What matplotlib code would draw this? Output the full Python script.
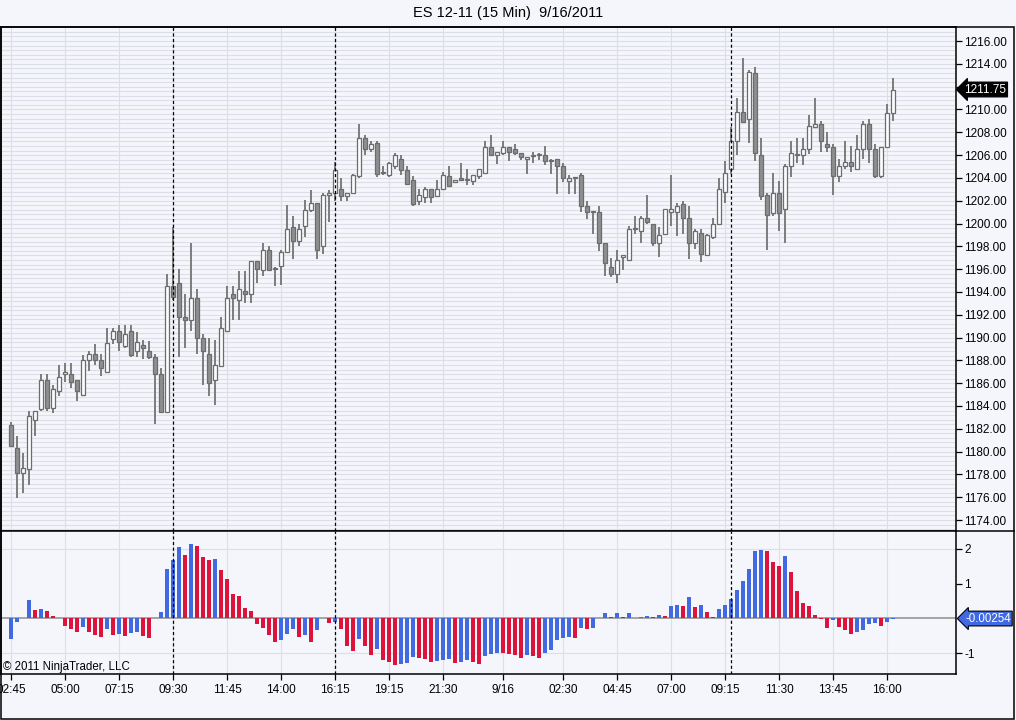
import matplotlib.pyplot as plt
import numpy as np
from matplotlib.transforms import blended_transform_factory
from matplotlib.patches import Rectangle
from matplotlib.lines import Line2D

plt.rcParams['font.family'] = ['Liberation Sans', 'DejaVu Sans']

# ES 12-11, 15 min bars (index 0 = 02:45)
opens = [1182.3, 1180.3, 1178.1, 1178.5, 1182.8, 1183.7, 1186.3, 1183.8, 1185.3, 1186.8,
         1186.8, 1186.3, 1185.0, 1188.0, 1188.6, 1188.0, 1187.0, 1189.9, 1190.6, 1189.3,
         1190.6, 1188.8, 1189.35, 1188.8, 1188.3, 1186.8, 1183.5, 1194.5, 1194.8, 1191.8,
         1191.5, 1193.5, 1190.0, 1188.6, 1186.3, 1187.5, 1190.6, 1193.8, 1193.3, 1194.1,
         1193.8, 1196.7, 1195.9, 1197.7, 1196.0, 1196.3, 1197.5, 1199.7, 1198.5, 1199.8,
         1201.2, 1201.8, 1198.0, 1202.5, 1202.7, 1203.0, 1202.4, 1202.65, 1204.2, 1207.5,
         1206.5, 1207.1, 1204.5, 1204.25, 1205.0, 1205.7, 1204.7, 1203.8, 1202.0, 1202.3,
         1203.0, 1202.4, 1203.0, 1204.2, 1203.6, 1204.0, 1203.8, 1203.75, 1204.2, 1204.45,
         1206.7, 1206.0, 1206.2, 1206.7, 1206.5, 1206.2, 1205.7, 1205.9, 1206.0, 1206.0,
         1205.5, 1205.7, 1205.0, 1203.75, 1203.95, 1204.25, 1201.5, 1201.0, 1201.0, 1198.3,
         1196.2, 1195.6, 1197.1, 1196.8, 1199.5, 1199.3, 1200.5, 1200.0, 1198.3, 1199.1,
         1201.0, 1201.0, 1201.75, 1200.5, 1198.3, 1199.2, 1197.25, 1198.8, 1200.0, 1202.8,
         1204.75, 1207.2, 1209.8, 1209.2, 1213.2, 1206.0, 1202.5, 1200.95, 1202.7, 1201.25,
         1205.0, 1206.0, 1206.0, 1206.5, 1208.5, 1208.7, 1207.0, 1206.7, 1204.2, 1205.0,
         1205.4, 1204.75, 1206.5, 1208.7, 1206.5, 1204.2, 1206.7, 1209.7]
highs = [1182.6, 1181.4, 1179.9, 1183.6, 1183.6, 1186.8, 1186.8, 1185.8, 1187.6, 1187.8,
         1187.8, 1186.3, 1188.5, 1188.8, 1189.4, 1188.6, 1190.8, 1190.8, 1191.1, 1191.1,
         1191.1, 1190.5, 1189.8, 1189.7, 1188.6, 1187.3, 1195.6, 1199.7, 1196.0, 1193.8,
         1198.3, 1194.3, 1190.3, 1190.0, 1189.8, 1191.8, 1194.5, 1194.5, 1195.8, 1195.8,
         1196.7, 1196.7, 1198.3, 1198.0, 1196.2, 1197.7, 1201.6, 1200.7, 1200.0, 1202.1,
         1202.9, 1201.8, 1202.7, 1202.9, 1205.4, 1204.0, 1202.7, 1204.3, 1208.7, 1207.75,
         1207.25, 1207.25, 1205.0, 1205.4, 1206.2, 1206.0, 1205.0, 1204.2, 1203.0, 1203.2,
         1203.0, 1203.8, 1204.5, 1205.0, 1203.8, 1205.3, 1204.75, 1204.25, 1204.75, 1207.25,
         1207.75, 1206.3, 1207.2, 1206.7, 1207.0, 1206.2, 1205.7, 1206.25, 1206.2, 1206.8,
         1205.7, 1205.7, 1205.3, 1204.25, 1203.95, 1204.45, 1202.0, 1201.0, 1201.5, 1198.3,
         1197.0, 1197.7, 1197.1, 1199.75, 1200.7, 1200.7, 1202.5, 1200.0, 1199.7, 1201.25,
         1204.25, 1201.8, 1202.0, 1201.5, 1199.5, 1199.5, 1199.1, 1200.5, 1204.0, 1205.5,
         1208.5, 1211.0, 1214.5, 1213.5, 1213.7, 1207.5, 1202.7, 1204.45, 1203.75, 1205.25,
         1207.2, 1207.5, 1207.5, 1209.5, 1211.0, 1209.0, 1208.0, 1207.0, 1205.7, 1207.25,
         1206.8, 1207.75, 1209.0, 1209.2, 1207.0, 1206.7, 1210.5, 1212.75]
lows = [1180.4, 1175.9, 1176.4, 1177.1, 1181.4, 1183.6, 1183.6, 1183.4, 1184.9, 1186.1,
        1185.6, 1184.4, 1185.0, 1187.1, 1187.6, 1186.6, 1187.0, 1189.4, 1188.8, 1189.1,
        1188.3, 1188.3, 1188.1, 1188.1, 1182.4, 1183.4, 1183.5, 1193.3, 1188.3, 1189.1,
        1190.6, 1188.6, 1185.8, 1184.9, 1184.1, 1187.5, 1190.5, 1191.5, 1191.5, 1193.0,
        1193.0, 1194.8, 1195.4, 1195.9, 1194.5, 1194.6, 1197.5, 1196.9, 1198.0, 1198.8,
        1201.0, 1196.9, 1197.3, 1200.1, 1202.0, 1202.0, 1202.0, 1202.6, 1204.0, 1206.0,
        1206.3, 1204.05, 1204.25, 1204.05, 1204.8, 1204.25, 1203.4, 1201.5, 1201.6, 1201.8,
        1201.8, 1202.4, 1203.0, 1203.3, 1203.6, 1203.75, 1203.4, 1203.4, 1203.9, 1204.45,
        1205.9, 1205.2, 1206.0, 1205.5, 1206.0, 1205.6, 1204.3, 1205.3, 1205.6, 1205.1,
        1204.3, 1202.6, 1203.6, 1202.6, 1202.6, 1201.0, 1200.4, 1199.1, 1197.6, 1195.4,
        1195.3, 1194.8, 1195.9, 1196.8, 1199.1, 1198.3, 1200.0, 1198.0, 1197.1, 1199.1,
        1199.8, 1198.9, 1199.1, 1196.9, 1197.8, 1196.6, 1197.25, 1198.6, 1200.0, 1201.8,
        1204.3, 1206.0, 1208.9, 1207.1, 1205.5, 1202.1, 1197.7, 1200.65, 1199.3, 1198.3,
        1204.05, 1205.3, 1205.1, 1206.1, 1208.5, 1206.3, 1206.3, 1202.5, 1203.6, 1204.8,
        1204.5, 1204.75, 1205.7, 1205.3, 1204.0, 1204.0, 1206.7, 1209.0]
closes = [1180.5, 1178.1, 1178.6, 1183.1, 1183.6, 1186.3, 1183.8, 1185.5, 1186.5, 1187.0,
          1186.1, 1185.3, 1188.0, 1188.6, 1188.0, 1187.3, 1189.5, 1190.6, 1189.6, 1190.3,
          1188.5, 1189.6, 1189.1, 1188.3, 1186.8, 1183.5, 1194.5, 1193.6, 1191.8, 1191.5,
          1193.5, 1190.0, 1188.8, 1186.0, 1187.6, 1190.8, 1193.5, 1193.5, 1194.3, 1193.8,
          1196.7, 1196.0, 1197.7, 1195.9, 1196.0, 1197.5, 1199.5, 1198.5, 1199.5, 1201.2,
          1201.8, 1197.7, 1202.5, 1202.7, 1204.7, 1202.4, 1202.7, 1204.25, 1207.5, 1206.5,
          1207.0, 1204.3, 1204.4, 1205.3, 1206.0, 1204.7, 1203.5, 1201.7, 1202.5, 1203.0,
          1202.3, 1203.0, 1204.25, 1203.3, 1203.8, 1203.8, 1203.8, 1204.25, 1204.75, 1206.7,
          1206.0, 1206.3, 1206.7, 1206.3, 1206.2, 1205.8, 1205.7, 1205.9, 1206.0, 1205.5,
          1205.5, 1205.0, 1203.95, 1203.95, 1203.95, 1201.5, 1201.0, 1201.0, 1198.3, 1196.5,
          1195.6, 1196.8, 1197.1, 1199.5, 1199.5, 1200.5, 1200.1, 1198.3, 1199.0, 1201.25,
          1201.25, 1201.5, 1200.5, 1198.3, 1199.3, 1197.3, 1199.0, 1200.0, 1203.0, 1204.45,
          1207.25, 1209.8, 1208.9, 1213.3, 1206.2, 1202.4, 1200.75, 1202.7, 1200.95, 1205.0,
          1206.2, 1206.0, 1206.5, 1208.55, 1208.7, 1207.2, 1206.7, 1204.2, 1205.0, 1205.4,
          1205.0, 1206.5, 1208.7, 1206.5, 1204.2, 1206.7, 1209.7, 1211.75]

# lower panel oscillator histogram
hist = [-0.585, -0.096, 0.0, 0.53, 0.24, 0.27, 0.22, 0.08, 0.0, -0.21,
        -0.30, -0.38, -0.24, -0.38, -0.47, -0.53, -0.30, -0.47, -0.46, -0.50,
        -0.41, -0.40, -0.50, -0.56, 0.0, 0.18, 1.42, 1.68, 2.05, 1.82,
        2.14, 2.08, 1.76, 1.68, 1.71, 1.39, 1.13, 0.70, 0.64, 0.29,
        0.21, -0.15, -0.27, -0.47, -0.67, -0.61, -0.44, -0.30, -0.53, -0.47,
        -0.67, -0.33, 0.0, -0.12, -0.10, -0.30, -0.79, -0.93, -0.585, -0.79,
        -1.05, -0.87, -1.19, -1.25, -1.33, -1.30, -1.28, -1.10, -1.13, -1.16,
        -1.25, -1.22, -1.19, -1.16, -1.28, -1.25, -1.19, -1.25, -1.30, -1.07,
        -1.02, -0.99, -1.00, -1.01, -1.05, -1.13, -1.05, -1.07, -1.13, -0.99,
        -0.90, -0.61, -0.56, -0.53, -0.56, -0.27, -0.30, -0.27, 0.0, 0.16,
        0.05, 0.16, 0.05, 0.16, 0.02, 0.05, 0.08, 0.05, 0.105, 0.08,
        0.36, 0.385, 0.36, 0.62, 0.33, 0.385, 0.18, 0.04, 0.27, 0.385,
        0.56, 0.82, 1.08, 1.42, 1.94, 1.97, 1.94, 1.63, 1.51, 1.80,
        1.34, 0.79, 0.44, 0.36, 0.10, -0.01, -0.27, -0.04, -0.24, -0.33,
        -0.44, -0.385, -0.33, -0.15, -0.14, -0.21, -0.10, -0.00254]

tick_pos = [0, 9, 18, 27, 36, 45, 54, 63, 72, 82, 92, 101, 110, 119, 128, 137, 146]
tick_labels = ['02:45', '05:00', '07:15', '09:30', '11:45', '14:00', '16:15', '19:15',
               '21:30', '9/16', '02:30', '04:45', '07:00', '09:15', '11:30', '13:45', '16:00']
session_starts = [27, 54, 120]
price_ticks = list(range(1174, 1217, 2))
osc_ticks = [-1, 1, 2]
last_price = 1211.75
last_osc = -0.00254

W, H = 1016, 720
bg = '#f4f6fb'
grid_c = '#dcdfe7'
up_c, down_c = '#4169e1', '#dc143c'

fig = plt.figure(figsize=(W / 100, H / 100), dpi=100, facecolor=bg)
ax = fig.add_axes([1 / W, 1 - 531 / H, 955 / W, 504 / H], facecolor=bg)
ax2 = fig.add_axes([1 / W, 1 - 674 / H, 955 / W, 143 / H], facecolor=bg)

x = np.arange(len(closes))
o = np.array(opens)
c = np.array(closes)
rising = c >= o

# candles
ax.vlines(x, lows, highs, color='#7c7c7c', lw=1.4, zorder=3)
body_lo = np.minimum(o, c)
body_h = np.maximum(np.abs(c - o), 0.1)
ax.bar(x, body_h, bottom=body_lo, width=0.68,
       color=np.where(rising, '#fbfcfe', '#8f8f8f'),
       edgecolor='#6c6c6c', linewidth=0.9, zorder=4)

ax.set_xlim(-1.67, 157.5)
ax.set_ylim(1173.04, 1217.23)
ax.set_yticks(price_ticks)
# the 1212 label sits under the last-price marker, as in the original
ax.set_yticklabels(['' if abs(p - last_price) < 1 else f'{p:.2f}' for p in price_ticks])
ax.set_yticks(np.arange(1173.2, 1217.2, 0.4), minor=True)
ax.yaxis.tick_right()
ax.tick_params(axis='y', which='major', direction='out', length=4, width=0.9, pad=2, labelsize=8.5)
ax.tick_params(axis='y', which='minor', length=0)
ax.set_xticks(tick_pos)
ax.tick_params(axis='x', length=0, labelbottom=False)
ax.grid(True, which='both', axis='y', color=grid_c, lw=0.8)
ax.grid(True, axis='x', color=grid_c, lw=0.8)
ax.set_axisbelow(True)

# oscillator
hcols = [up_c if i == 0 or hist[i] > hist[i - 1] else down_c for i in range(len(hist))]
ax2.bar(x, hist, width=0.74, color=hcols, zorder=3)
ax2.axhline(0, color='#a3a3a3', lw=1.4, zorder=2)
for v in [2, -1]:
    ax2.axhline(v, color=grid_c, lw=0.8, zorder=1)
ax2.set_xlim(-1.67, 157.5)
ax2.set_ylim(-1.595, 2.51)
ax2.set_yticks(osc_ticks)
ax2.set_yticklabels([str(t) for t in osc_ticks])
ax2.yaxis.tick_right()
ax2.tick_params(axis='y', direction='out', length=4, width=0.9, pad=2, labelsize=8.5)
ax2.set_xticks(tick_pos)
ax2.set_xticklabels(tick_labels)
ax2.tick_params(axis='x', direction='out', length=4, width=0.9, pad=3, labelsize=8.5)
ax2.grid(True, axis='x', color=grid_c, lw=0.8, zorder=0)
ax2.set_axisbelow(True)

for a in (ax, ax2):
    for s in a.spines.values():
        s.set_color('black')
        s.set_linewidth(1.1)
    for s in session_starts:
        a.axvline(s, color='black', lw=0.9, ls=(0, (2.5, 2)), zorder=5)

# value markers on the right axis
tr = blended_transform_factory(ax.transAxes, ax.transData)
ax.text(1.0085, last_price, f'{last_price:.2f}', transform=tr, ha='left', va='center',
        color='white', fontsize=8.5,
        bbox=dict(boxstyle='larrow,pad=0.12', fc='black', ec='black', lw=0.8))
tr2 = blended_transform_factory(ax2.transAxes, ax2.transData)
ax2.text(1.0095, last_osc, f'{last_osc:.5f}', transform=tr2, ha='left', va='center',
         color='white', fontsize=8.3,
         bbox=dict(boxstyle='larrow,pad=0.12', fc=up_c, ec='black', lw=0.8))

# outer frame and texts
fig.add_artist(Rectangle((1 / W, 1 - 719 / H), 1013 / W, 692 / H, transform=fig.transFigure,
                         fill=False, ec='black', lw=1.1))
fig.add_artist(Line2D([956 / W, 1014 / W], [1 - 531 / H, 1 - 531 / H], color='black', lw=1.1))
fig.text(0.5, 1 - 13 / H, 'ES 12-11 (15 Min)  9/16/2011', ha='center', va='center', fontsize=10.5)
fig.text(3 / W, 1 - 667 / H, '\u00a9 2011 NinjaTrader, LLC', ha='left', va='center', fontsize=8.3)

fig.savefig('out.png', dpi=100, facecolor=bg)
